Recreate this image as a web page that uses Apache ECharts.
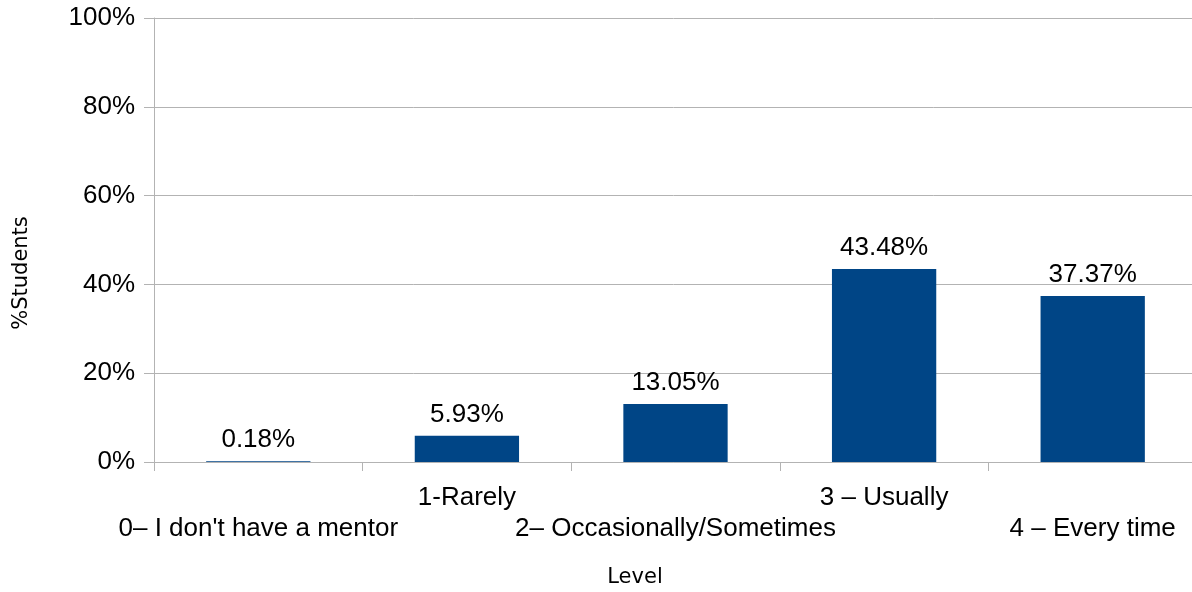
<!DOCTYPE html>
<html><head><meta charset="utf-8">
<script src="https://cdn.jsdelivr.net/npm/echarts@6/dist/echarts.min.js"></script>
<style>html,body{margin:0;padding:0;background:#fff}#c{width:1192px;height:592px}</style>
</head><body><div id="c"></div>
<script>
const categories = ["0– I don't have a mentor", "1-Rarely", "2– Occasionally/Sometimes", "3 – Usually", "4 – Every time"];
const values = [0.18, 5.93, 13.05, 43.48, 37.37];
const yTicks = [0, 20, 40, 60, 80, 100];

const chart = echarts.init(document.getElementById('c'));
const font = 'Liberation Sans';
const nameFont = 'DejaVu Sans';
chart.setOption({
  animation: false,
  grid: {left: 154, right: -5, top: 18, bottom: 130, containLabel: false, outerBoundsMode: 'none'},
  xAxis: {
    type: 'category', data: categories,
    name: 'Level', nameLocation: 'middle', nameGap: 105,
    nameTextStyle: {fontFamily: nameFont, fontSize: 21, color: '#000', padding: [0, 81, 0, 0]},
    axisLine: {lineStyle: {color: '#b3b3b3'}},
    axisTick: {show: true, length: 9, lineStyle: {color: '#b3b3b3'}},
    axisLabel: {
      interval: 0, hideOverlap: false, margin: 20,
      fontFamily: font, fontSize: 26, color: '#000', lineHeight: 31,
      formatter: (v, i) => (i % 2 === 0 ? '\n' + v : v)
    }
  },
  yAxis: {
    type: 'value', min: 0, max: 100, interval: 20,
    name: '%Students', nameLocation: 'middle', nameGap: 122, nameRotate: 90,
    nameTextStyle: {fontFamily: nameFont, fontSize: 21, color: '#000', padding: [0, 66, 0, 0]},
    axisLine: {show: true, lineStyle: {color: '#b3b3b3'}},
    axisTick: {show: true, length: 10, lineStyle: {color: '#b3b3b3'}},
    splitLine: {lineStyle: {color: '#b3b3b3'}},
    axisLabel: {fontFamily: font, fontSize: 26, color: '#000', margin: 19,
      formatter: v => yTicks.includes(v) ? v + '%' : ''}
  },
  series: [{
    type: 'bar', data: values, barWidth: '50%',
    itemStyle: {color: '#004586'},
    label: {show: true, position: 'top', distance: 8, fontFamily: font, fontSize: 26, color: '#000',
      formatter: p => p.value.toFixed(2) + '%'}
  }]
});
</script></body></html>
